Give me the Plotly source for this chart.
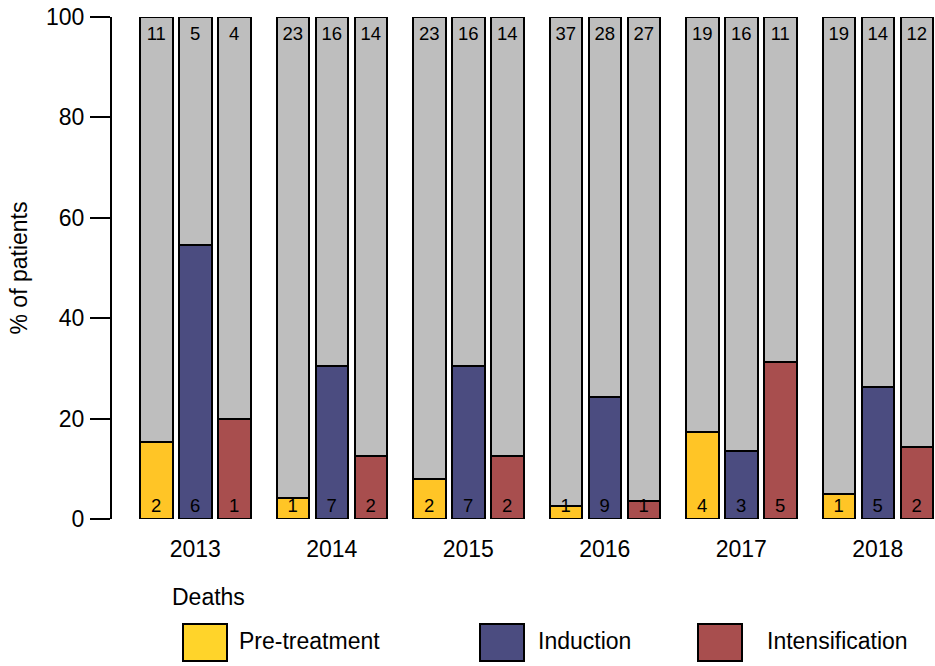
import plotly.graph_objects as go

years = ["2013", "2014", "2015", "2016", "2017", "2018"]
series = ["Pre-treatment", "Induction", "Intensification"]

# % of patients who died (height of coloured segment)
pct_pre = [15.4, 4.2, 8.0, 2.6, 17.4, 5.0]
pct_ind = [54.5, 30.4, 30.4, 24.3, 13.6, 26.3]
pct_int = [20.0, 12.5, 12.5, 3.6, 31.3, 14.3]

# Count labels: deaths (bottom) and others (top)
deaths_pre = [2, 1, 2, 1, 4, 1]
deaths_ind = [6, 7, 7, 9, 3, 5]
deaths_int = [1, 2, 2, 1, 5, 2]
other_pre = [11, 23, 23, 37, 19, 19]
other_ind = [5, 16, 16, 28, 16, 14]
other_int = [4, 14, 14, 27, 11, 12]

colors = ["#FFC526", "#4B4C80", "#A84E4E"]
legend_colors = ["#FFD42A", "#4B4C80", "#A84E4E"]
grey = "#BEBEBE"

pcts = [pct_pre, pct_ind, pct_int]
deaths = [deaths_pre, deaths_ind, deaths_int]
others = [other_pre, other_ind, other_int]

GROUP_STEP = 4.2
BAR_STEP = 1.2
FONT = "Liberation Sans, Arial, sans-serif"

W, H = 935, 666
ML, MR, MT, MB = 112, 0, 17, 147
PW, PH = W - ML - MR, H - MT - MB

def px_x(px):
    return (px - ML) / PW

def px_y(py):
    return (H - MB - py) / PH

fig = go.Figure()
for j, name in enumerate(series):
    xs = [g * GROUP_STEP + j * BAR_STEP + 0.5 for g in range(len(years))]
    fig.add_trace(go.Bar(
        x=xs, y=pcts[j], width=1, marker=dict(color=colors[j], line=dict(color="black", width=2)),
        showlegend=False, hoverinfo="skip"))
    fig.add_trace(go.Bar(
        x=xs, y=[100 - p for p in pcts[j]], width=1,
        marker=dict(color=grey, line=dict(color="black", width=2)),
        showlegend=False, hoverinfo="skip"))
    fig.add_trace(go.Scatter(
        x=xs, y=[2.4] * len(xs), mode="text", text=[str(v) for v in deaths[j]],
        textfont=dict(size=18.5, color="black", family=FONT), showlegend=False, hoverinfo="skip"))
    fig.add_trace(go.Scatter(
        x=xs, y=[96.4] * len(xs), mode="text", text=[str(v) for v in others[j]],
        textfont=dict(size=18.5, color="black", family=FONT), showlegend=False, hoverinfo="skip"))

unit = (933 - 140) / 24.4
x_left = (ML - 140) / unit
x_right = 24.4 + (W - 933) / unit

group_centers = [g * GROUP_STEP + 1.7 for g in range(len(years))]

shapes = []
annotations = []
annotations.append(dict(text="Deaths", x=px_x(170), y=px_y(597), xref="paper", yref="paper",
                        xanchor="left", yanchor="middle", showarrow=False,
                        font=dict(size=23, color="black", family=FONT)))
box_x = [183, 480, 698]
text_x = [237, 536, 765]
for j, name in enumerate(series):
    shapes.append(dict(type="rect", xref="paper", yref="paper",
                       x0=px_x(box_x[j]), x1=px_x(box_x[j] + 44),
                       y0=px_y(661), y1=px_y(624),
                       fillcolor=legend_colors[j], line=dict(color="black", width=2)))
    annotations.append(dict(text=name, x=px_x(text_x[j]), y=px_y(641), xref="paper", yref="paper",
                            xanchor="left", yanchor="middle", showarrow=False,
                            font=dict(size=23, color="black", family=FONT)))

fig.update_layout(
    width=W, height=H, barmode="stack", bargap=0,
    margin=dict(l=ML, r=MR, t=MT, b=MB, pad=0),
    plot_bgcolor="white", paper_bgcolor="white",
    font=dict(family=FONT, color="black", size=23),
    shapes=shapes, annotations=annotations,
    xaxis=dict(range=[x_left, x_right], tickmode="array", tickvals=group_centers, ticktext=years,
               showgrid=False, zeroline=False, showline=False, ticks="", ticklabelstandoff=14,
               tickfont=dict(size=23, family=FONT, color="black")),
    yaxis=dict(range=[0, 100], tickvals=[0, 20, 40, 60, 80, 100], showgrid=False, zeroline=False,
               showline=True, linecolor="black", linewidth=2, ticks="outside", ticklen=20,
               tickwidth=2, tickcolor="black", ticklabelstandoff=1,
               tickfont=dict(size=23, family=FONT, color="black"),
               title=dict(text="% of patients", font=dict(size=23, family=FONT, color="black"),
                          standoff=12)),
)

fig.write_html("out.html")
